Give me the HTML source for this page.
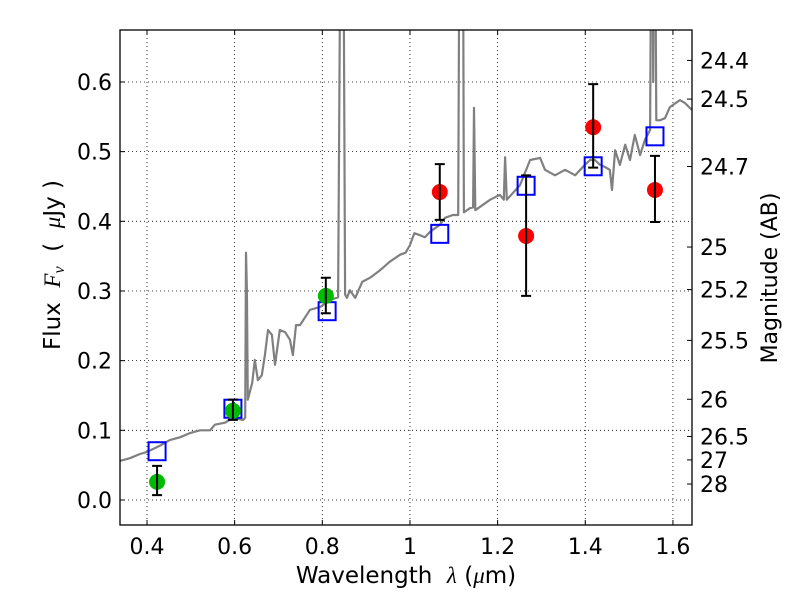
<!DOCTYPE html>
<html><head><meta charset="utf-8">
<style>
body{margin:0;background:#fff;}
svg{display:block;font-family:"DejaVu Sans","Liberation Sans",sans-serif;}
text{white-space:pre;}
</style></head>
<body>
<svg id="chart" width="800" height="600" viewBox="0 0 800 600" xml:space="preserve">
<defs><clipPath id="clip"><rect x="120" y="30" width="572" height="495"/></clipPath></defs>
<rect x="0" y="0" width="800" height="600" fill="#fff"/>
<g id="grid"></g>
<g id="spec" clip-path="url(#clip)"></g>
<g id="marks"></g>
<rect x="120" y="30" width="572" height="495" fill="none" stroke="#000" stroke-width="1.3"/>
<g id="axes"></g>
<text x="406" y="583" font-size="23" text-anchor="middle">Wavelength  <tspan font-family="Liberation Serif,serif" font-style="italic">λ</tspan> (<tspan font-family="Liberation Serif,serif" font-style="italic">μ</tspan>m)</text>
<text transform="translate(60,265) rotate(-90)" font-size="23" text-anchor="middle">Flux  <tspan font-family="Liberation Serif,serif" font-style="italic">F<tspan font-size="16" dy="4">ν</tspan></tspan><tspan dy="-4">  (  </tspan><tspan font-family="Liberation Serif,serif" font-style="italic">μ</tspan>Jy )</text>
<text transform="translate(777,278) rotate(-90)" font-size="22" text-anchor="middle">Magnitude (AB)</text>
</svg>
<script>
const specLam=[0.338,0.361,0.384,0.400,0.430,0.452,0.475,0.498,0.521,0.544,0.555,0.578,0.596,0.619,0.624,0.626,0.628,0.630,0.640,0.646,0.653,0.662,0.669,0.676,0.685,0.692,0.703,0.715,0.726,0.733,0.740,0.749,0.772,0.795,0.818,0.836,0.843,0.847,0.852,0.856,0.863,0.875,0.891,0.909,0.932,0.954,0.977,0.990,1.000,1.010,1.023,1.034,1.046,1.068,1.080,1.098,1.110,1.114,1.120,1.123,1.137,1.144,1.146,1.149,1.183,1.205,1.214,1.217,1.221,1.251,1.274,1.297,1.308,1.331,1.354,1.377,1.399,1.411,1.422,1.434,1.445,1.456,1.461,1.468,1.479,1.491,1.502,1.513,1.525,1.536,1.548,1.552,1.555,1.558,1.562,1.570,1.582,1.593,1.616,1.627,1.643];
const specFlux=[0.056,0.060,0.066,0.069,0.078,0.086,0.090,0.096,0.100,0.100,0.108,0.111,0.118,0.115,0.118,0.355,0.300,0.144,0.168,0.201,0.172,0.179,0.208,0.244,0.237,0.194,0.244,0.241,0.230,0.208,0.251,0.251,0.273,0.277,0.287,0.291,1.0,1.0,0.295,0.290,0.301,0.290,0.313,0.319,0.330,0.342,0.352,0.355,0.366,0.383,0.380,0.377,0.385,0.395,0.405,0.409,0.409,1.0,1.0,0.413,0.419,0.420,0.563,0.416,0.431,0.438,0.431,0.492,0.431,0.452,0.488,0.491,0.474,0.466,0.474,0.466,0.481,0.488,0.488,0.481,0.478,0.474,0.445,0.502,0.481,0.510,0.488,0.524,0.495,0.517,0.531,1.0,0.6,1.0,0.545,0.545,0.548,0.564,0.574,0.570,0.560];
const greenLam=[0.423,0.596,0.808];
const greenFlux=[0.026,0.128,0.293];
const greenLo=[0.007,0.115,0.268];
const greenHi=[0.049,0.144,0.319];
const redLam=[1.068,1.265,1.418,1.559];
const redFlux=[0.442,0.379,0.535,0.445];
const redLo=[0.402,0.293,0.477,0.399];
const redHi=[0.482,0.466,0.597,0.494];
const modelLam=[0.423,0.596,0.811,1.068,1.265,1.418,1.559];
const modelFlux=[0.070,0.131,0.271,0.382,0.451,0.479,0.522];
const xTicks=[0.4,0.6,0.8,1.0,1.2,1.4,1.6];
const xTickLabels=["0.4","0.6","0.8","1","1.2","1.4","1.6"];
const yTicks=[0.0,0.1,0.2,0.3,0.4,0.5,0.6];
const yTickLabels=["0.0","0.1","0.2","0.3","0.4","0.5","0.6"];
const magTicks=[24.4,24.5,24.7,25,25.2,25.5,26,26.5,27,28];
const magLabels=["24.4","24.5","24.7","25","25.2","25.5","26","26.5","27","28"];

const X0=120,X1=692,Y0=30,Y1=525;
const xmin=0.3384,xmax=1.6435,ymin=-0.0359,ymax=0.6746;
const sx=v=>X0+(v-xmin)/(xmax-xmin)*(X1-X0);
const sy=v=>Y1-(v-ymin)/(ymax-ymin)*(Y1-Y0);
const NS="http://www.w3.org/2000/svg";
function mk(tag,attrs,parent){const e=document.createElementNS(NS,tag);for(const k in attrs)e.setAttribute(k,attrs[k]);document.getElementById(parent).appendChild(e);return e;}

xTicks.forEach((t,i)=>{
  const x=sx(t);
  const g=mk('line',{x1:x,x2:x,y1:Y0,y2:Y1,stroke:'#000','stroke-width':0.8,'stroke-dasharray':'1,3'},'grid');
  
  
  const a=mk('line',{x1:x,x2:x,y1:Y1,y2:Y1-5,stroke:'#000'},'axes');
  
  
  const b=mk('line',{x1:x,x2:x,y1:Y0,y2:Y0+5,stroke:'#000'},'axes');
  
  
  const tx=mk('text',{x:x,y:554,'font-size':22,'text-anchor':'middle'},'axes');
  tx.textContent=xTickLabels[i];
  
  
});
yTicks.forEach((t,i)=>{
  const y=sy(t);
  const g=mk('line',{x1:X0,x2:X1,y1:y,y2:y,stroke:'#000','stroke-width':0.8,'stroke-dasharray':'1,3'},'grid');
  
  
  const a=mk('line',{x1:X0,x2:X0+5,y1:y,y2:y,stroke:'#000'},'axes');
  
  
  const tx=mk('text',{x:112,y:y+8,'font-size':22,'text-anchor':'end'},'axes');
  tx.textContent=yTickLabels[i];
  
  
});
magTicks.forEach((m,i)=>{
  const y=sy(Math.pow(10,(23.9-m)/2.5));
  const a=mk('line',{x1:X1-5,x2:X1,y1:y,y2:y,stroke:'#000'},'axes');
  
  
  const tx=mk('text',{x:700,y:y+8,'font-size':22},'axes');
  tx.textContent=magLabels[i];
  
  
});

const pts=specLam.map((l,i)=>sx(l).toFixed(1)+','+sy(specFlux[i]).toFixed(1)).join(' ');
const sp=mk('polyline',{points:pts,fill:'none',stroke:'#808080','stroke-width':2.2,'stroke-linejoin':'round'},'spec');



modelLam.forEach((l,i)=>{
  const r=mk('rect',{x:sx(l)-8.5,y:sy(modelFlux[i])-9,width:17,height:18,fill:'none',stroke:'#0000ff','stroke-width':2},'marks');
  
  
});
function pt(lam,f,lo,hi,color,name){
  lam.forEach((l,i)=>{
    const x=sx(l);
    const c=mk('circle',{cx:x,cy:sy(f[i]),r:8,fill:color},'marks');
    
    
    const e=mk('path',{d:`M${x},${sy(lo[i])}V${sy(hi[i])}M${x-5},${sy(lo[i])}H${x+5}M${x-5},${sy(hi[i])}H${x+5}`,stroke:'#000','stroke-width':2,fill:'none'},'marks');
    
    
  });
}
pt(greenLam,greenFlux,greenLo,greenHi,'#00bb00','optical-flux-point');
pt(redLam,redFlux,redLo,redHi,'#ff0000','nir-flux-point');
</script>
</body></html>
